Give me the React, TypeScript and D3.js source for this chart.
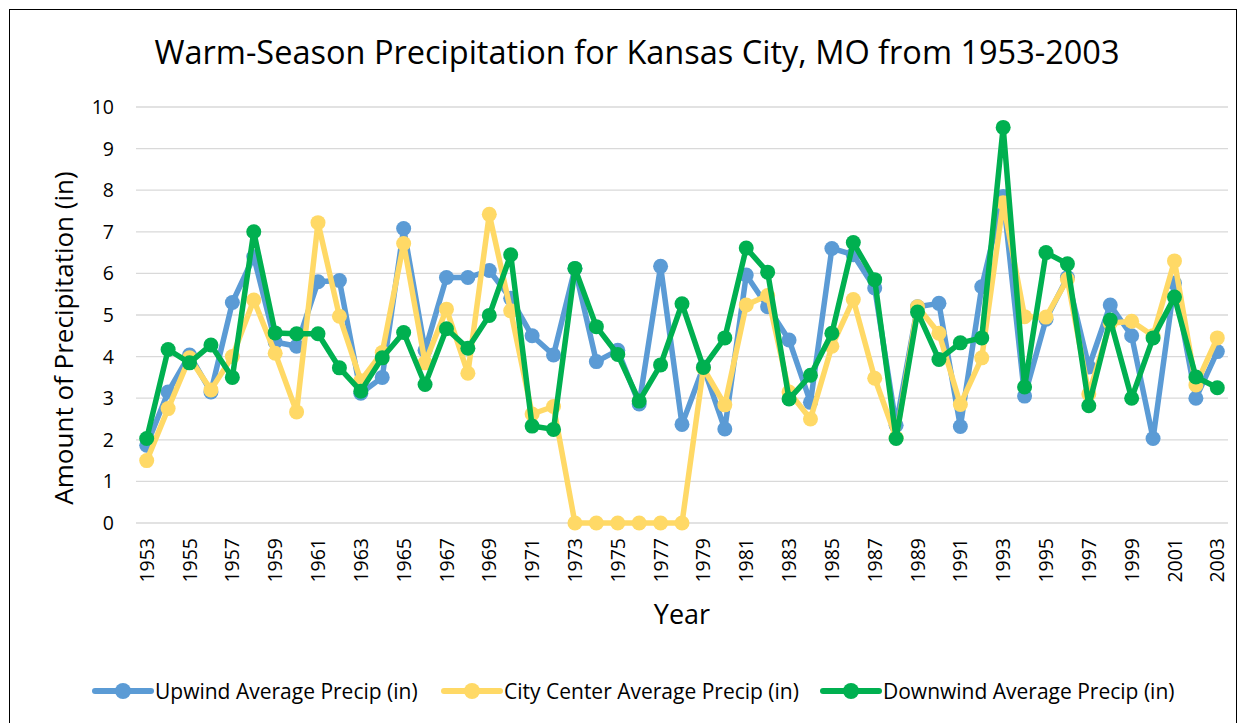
import React, { useEffect, useRef } from 'react';
import * as d3 from 'd3';

const years = d3.range(1953, 2004).map(String);

const upwind = [
  1.87, 3.15, 4.04, 3.15, 5.3, 6.4, 4.35, 4.25, 5.8, 5.83, 3.12, 3.5, 7.08, 4.15, 5.9, 5.9, 6.07,
  5.4, 4.5, 4.04, 6.12, 3.88, 4.15, 2.86, 6.17, 2.37, 3.75, 2.26, 5.96, 5.2, 4.4, 2.9, 6.6,
  6.45, 5.65, 2.35, 5.2, 5.28, 2.32, 5.68, 7.85, 3.05, 4.9, 5.9, 3.75, 5.24, 4.5, 2.03, 5.77,
  3.0, 4.12,
];

const cityCenter = [
  1.5, 2.75, 3.97, 3.2, 4.0, 5.36, 4.08, 2.67, 7.22, 4.97, 3.42, 4.1, 6.72, 3.85, 5.14, 3.6, 7.42,
  5.1, 2.62, 2.8, 0, 0, 0, 0, 0, 0, 3.72, 2.84, 5.24, 5.47, 3.15, 2.5, 4.25, 5.37, 3.48, 2.05,
  5.2, 4.56, 2.85, 3.97, 7.7, 4.96, 4.95, 5.86, 3.1, 4.8, 4.85, 4.5, 6.3, 3.32, 4.45,
];

const downwind = [
  2.03, 4.17, 3.85, 4.28, 3.5, 7.0, 4.57, 4.55, 4.55, 3.73, 3.17, 3.97, 4.58, 3.33, 4.67, 4.2,
  4.99, 6.45, 2.33, 2.25, 6.12, 4.72, 4.05, 2.93, 3.8, 5.27, 3.74, 4.45, 6.61, 6.03, 2.98, 3.55,
  4.56, 6.74, 5.85, 2.03, 5.07, 3.93, 4.33, 4.45, 9.51, 3.27, 6.5, 6.23, 2.82, 4.88, 3.0, 4.45,
  5.43, 3.51, 3.25,
];

const seriesNames = [
  'Upwind Average Precip (in)',
  'City Center Average Precip (in)',
  'Downwind Average Precip (in)',
];
const yTicks = [0, 1, 2, 3, 4, 5, 6, 7, 8, 9, 10];

const colors = ['#5B9BD5', '#FFD966', '#00B050'];
const font = '"Open Sans", Lato, sans-serif';

const App = () => {
  const svgRef = useRef<SVGSVGElement>(null);

  useEffect(() => {
    const svg = d3.select(svgRef.current);
    svg.selectAll('*').remove();

    const W = 1246;
    const H = 723;
    const left = 136;
    const right = 1228;
    const top = 107;
    const bottom = 523;

    svg.attr('width', W).attr('height', H).style('font-family', font);

    // chart frame
    svg.append('rect')
      .attr('x', 9.5).attr('y', 9.5)
      .attr('width', 1227).attr('height', 730)
      .attr('fill', '#fff').attr('stroke', '#000').attr('stroke-width', 1);

    const x = d3.scaleBand<string>().domain(years).range([left, right]);
    const y = d3.scaleLinear().domain([0, 10]).range([bottom, top]);
    const cx = (d: string) => (x(d) ?? 0) + x.bandwidth() / 2;

    // gridlines
    svg.append('g')
      .selectAll('line')
      .data(yTicks)
      .join('line')
      .attr('x1', left).attr('x2', right)
      .attr('y1', d => y(d)).attr('y2', d => y(d))
      .attr('stroke', '#d9d9d9').attr('stroke-width', 1.3);

    // y tick labels
    svg.append('g')
      .selectAll('text')
      .data(yTicks)
      .join('text')
      .attr('x', 114).attr('y', d => y(d))
      .attr('dy', '0.36em')
      .attr('text-anchor', 'end')
      .attr('font-size', 19.5)
      .attr('fill', '#000')
      .text(d => d);

    // x tick labels (every other year, rotated)
    svg.append('g')
      .selectAll('text')
      .data(years.filter((_, i) => i % 2 === 0))
      .join('text')
      .attr('transform', d => `translate(${cx(d)},${538}) rotate(-90)`)
      .attr('dy', '0.36em')
      .attr('text-anchor', 'end')
      .attr('font-size', 19.5)
      .attr('fill', '#000')
      .text(d => d);

    // title
    svg.append('text')
      .attr('x', 637).attr('y', 64)
      .attr('text-anchor', 'middle')
      .attr('font-size', 32.5)
      .attr('fill', '#000')
      .text('Warm-Season Precipitation for Kansas City, MO from 1953-2003');

    // axis titles
    svg.append('text')
      .attr('x', 682).attr('y', 624)
      .attr('text-anchor', 'middle')
      .attr('font-size', 27)
      .text('Year');

    svg.append('text')
      .attr('transform', `translate(73,338) rotate(-90)`)
      .attr('text-anchor', 'middle')
      .attr('font-size', 26)
      .text('Amount of Precipitation (in)');

    const line = d3.line<number>()
      .x((_, i) => cx(years[i]))
      .y(d => y(d));

    [upwind, cityCenter, downwind].forEach((vals, s) => {
      const g = svg.append('g');
      g.append('path')
        .datum(vals)
        .attr('fill', 'none')
        .attr('stroke', colors[s])
        .attr('stroke-width', 5.5)
        .attr('stroke-linejoin', 'round')
        .attr('d', line);
      g.selectAll('circle')
        .data(vals)
        .join('circle')
        .attr('cx', (_, i) => cx(years[i]))
        .attr('cy', d => y(d))
        .attr('r', 7.5)
        .attr('fill', colors[s]);
    });

    // legend
    const legendX = [95, 444, 823];
    const legend = svg.append('g');
    seriesNames.forEach((name, s) => {
      const lx = legendX[s];
      legend.append('line')
        .attr('x1', lx).attr('x2', lx + 56)
        .attr('y1', 691).attr('y2', 691)
        .attr('stroke', colors[s]).attr('stroke-width', 6)
        .attr('stroke-linecap', 'round');
      legend.append('circle')
        .attr('cx', lx + 28).attr('cy', 691).attr('r', 8)
        .attr('fill', colors[s]);
      legend.append('text')
        .attr('x', lx + 60).attr('y', 691)
        .attr('dy', '0.36em')
        .attr('font-size', 21)
        .text(name);
    });
  }, []);

  return <svg ref={svgRef} style={{ position: 'absolute', left: 0, top: 0 }}></svg>;
};

export default App;
